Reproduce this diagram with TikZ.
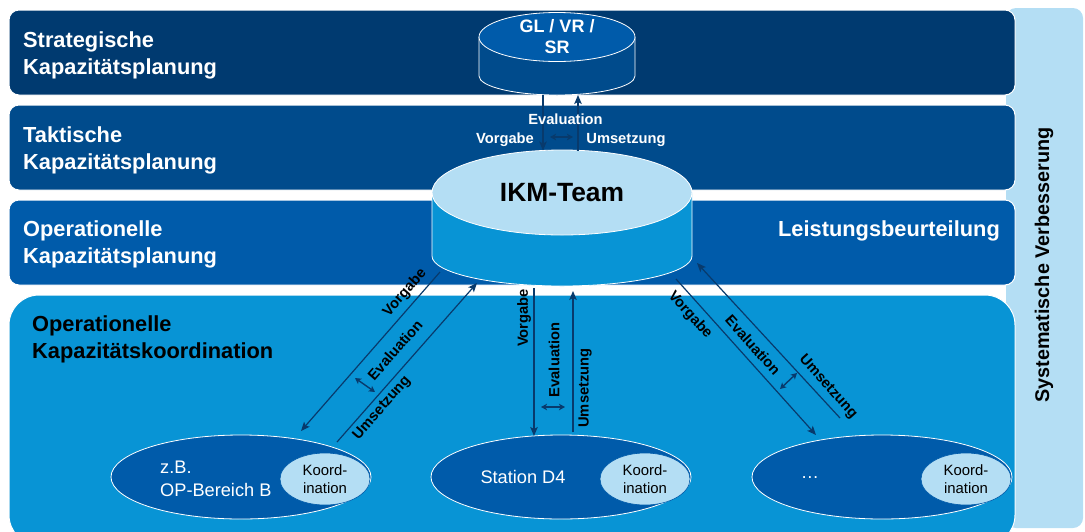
\documentclass[tikz,border=0pt]{standalone}
\usepackage{fontspec}
\setmainfont{Liberation Sans}
\usetikzlibrary{arrows.meta,shapes.geometric,calc}

\definecolor{bandA}{RGB}{0,58,112}
\definecolor{bandB}{RGB}{0,75,140}
\definecolor{bandC}{RGB}{0,91,170}
\definecolor{bandD}{RGB}{8,148,213}
\definecolor{paleblue}{RGB}{180,222,244}
\definecolor{arrowblue}{RGB}{8,58,108}

\begin{document}
\begin{tikzpicture}[x=1pt,y=-1pt,
  band/.style={draw=white, line width=1pt, rounded corners=10pt},
  bandlabel/.style={anchor=west, align=left, inner sep=0pt, text=white,
    font=\fontsize{21.8}{27}\selectfont\bfseries},
  flow/.style={draw=arrowblue, line width=1.2pt,
    -{Stealth[length=9pt,width=7.5pt,inset=2pt]}},
  swapflow/.style={draw=arrowblue, line width=1.4pt,
    {Stealth[length=6pt,width=6.5pt,inset=1.5pt]}-{Stealth[length=6pt,width=6.5pt,inset=1.5pt]}},
  flowlabel/.style={inner sep=0pt, font=\fontsize{14.7}{16}\selectfont\bfseries},
  unit/.style={ellipse, fill=bandC, draw=white, line width=0.8pt,
    minimum width=260pt, minimum height=84pt, inner sep=0pt},
  koord/.style={ellipse, fill=paleblue, draw=bandC, line width=0.6pt,
    minimum width=90pt, minimum height=52pt, inner sep=0pt},
  koordtext/.style={align=center, inner sep=0pt, font=\fontsize{14.9}{18}\selectfont},
  unittext/.style={text=white, inner sep=0pt, font=\fontsize{18.2}{23}\selectfont},
  rim/.style={ellipse, inner sep=0pt},
]
\useasboundingbox (0,0) rectangle (1085,531);

% side panel for continuous improvement
\fill[paleblue, rounded corners=10pt] (1006,8) rectangle (1083,528);
\node[rotate=90, inner sep=0pt, font=\fontsize{19.8}{22}\selectfont\bfseries] (improve)
  at (1044,265) {Systematische Verbesserung};

% planning levels
\path[band, fill=bandA] (9,10) rectangle (1015,95);
\path[band, fill=bandB] (9,105) rectangle (1015,190);
\path[band, fill=bandC] (9,200) rectangle (1015,285);
\path[band, fill=bandD, rounded corners=30pt] (9,295) rectangle (1015,545);

\node[bandlabel] (lvlA) at (23,55) {Strategische\\Kapazitätsplanung};
\node[bandlabel] (lvlB) at (23,150) {Taktische\\Kapazitätsplanung};
\node[bandlabel] (lvlC) at (23,244) {Operationelle\\Kapazitätsplanung};
\node[bandlabel, text=black] (lvlD) at (32,339.5) {Operationelle\\Kapazitätskoordination};
\node[bandlabel, anchor=east] (perf) at (1000,231) {Leistungsbeurteilung};

% management cylinder
\fill[bandB] (479,37) -- (479,76)
  arc[start angle=180, end angle=360, x radius=78pt, y radius=19pt] -- (635,37) -- cycle;
\draw[white, line width=0.8pt] (479,37) -- (479,76)
  arc[start angle=180, end angle=360, x radius=78pt, y radius=19pt] -- (635,37);
\node[rim, minimum width=156pt, minimum height=38pt] (glbase) at (557,76) {};
\node[ellipse, fill=bandC, draw=white, line width=0.8pt, inner sep=0pt,
  minimum width=156pt, minimum height=49pt] (gl) at (557,37) {};
\node[align=center, text=white, inner sep=0pt,
  font=\fontsize{18}{21}\selectfont\bfseries] (gltext) at (gl.center) {GL / VR /\\SR};

% IKM team cylinder
\fill[bandD] (432,192.5) -- (432,256)
  arc[start angle=180, end angle=360, x radius=130pt, y radius=30pt] -- (692,192.5) -- cycle;
\draw[white, line width=0.8pt] (432,192.5) -- (432,256)
  arc[start angle=180, end angle=360, x radius=130pt, y radius=30pt] -- (692,192.5);
\node[rim, minimum width=260pt, minimum height=60pt] (ikmbase) at (562,256) {};
\node[ellipse, fill=paleblue, draw=white, line width=0.8pt, inner sep=0pt,
  minimum width=260pt, minimum height=85pt] (ikm) at (562,192.5) {};
\node[inner sep=0pt, font=\fontsize{26.4}{30}\selectfont\bfseries] (ikmtext)
  at (ikm.center) {IKM-Team};

% operational units
\node[unit] (unitA) at (241,477) {};
\node[unit] (unitB) at (561,477) {};
\node[unit] (unitC) at (882,477) {};
\node[koord] (koordA) at ($(unitA.center)+(84,2)$) {};
\node[koord] (koordB) at ($(unitB.center)+(84,2)$) {};
\node[koord] (koordC) at ($(unitC.center)+(84,2)$) {};
\node[koordtext] (koordAtext) at (koordA.center) {Koord-\\ination};
\node[koordtext] (koordBtext) at (koordB.center) {Koord-\\ination};
\node[koordtext] (koordCtext) at (koordC.center) {Koord-\\ination};
\node[unittext, anchor=west, align=left] (unitAtext) at (160,479) {z.B.\\OP-Bereich B};
\node[unittext] (unitBtext) at (523,477) {Station D4};
\node[unittext] (unitCtext) at (810,478) {\ldots};

% strategic <-> tactical exchange
\draw[flow] ($(glbase.center)+(-14,19)$) -- ($(ikm.center)+(-19,-42)$);
\draw[flow] ($(ikm.center)+(16,-42)$) -- ($(glbase.center)+(21,19)$);
\coordinate (evalTa) at (550,137);
\coordinate (evalTb) at (573,137);
\draw[swapflow] (evalTa) -- (evalTb);
\node[flowlabel, text=white] (evalT) at (565.5,119) {Evaluation};
\node[flowlabel, text=white] (vorgT) at (505,140) {Vorgabe};
\node[flowlabel, text=white] (umsT) at (626,140) {Umsetzung};

% IKM team <-> unit A
\draw[flow] ($(ikmbase.center)+(-122,16)$) -- ($(unitA.center)+(60,-46)$);
\draw[flow] ($(unitA.center)+(96,-35)$) -- ($(ikmbase.center)+(-85,27)$);
\coordinate (evalAa) at (355,378);
\coordinate (evalAb) at (375,392);
\draw[swapflow] (evalAa) -- (evalAb);
\node[flowlabel, rotate=48.8] (vorgA) at (405,293) {Vorgabe};
\node[flowlabel, rotate=48.8] (evalA) at (395,350) {Evaluation};
\node[flowlabel, rotate=48.8] (umsA) at (382,408) {Umsetzung};

% IKM team <-> unit B
\draw[flow] ($(ikmbase.center)+(-28,32)$) -- ($(unitB.center)+(-27,-41)$);
\draw[flow] ($(unitB.center)+(12,-45)$) -- ($(ikmbase.center)+(11,35)$);
\coordinate (evalBa) at (541,407);
\coordinate (evalBb) at (565,407);
\draw[swapflow] (evalBa) -- (evalBb);
\node[flowlabel, rotate=90] (vorgB) at (524,318) {Vorgabe};
\node[flowlabel, rotate=90] (evalB) at (554,360) {Evaluation};
\node[flowlabel, rotate=90] (umsB) at (585,388) {Umsetzung};

% IKM team <-> unit C
\draw[flow] ($(ikmbase.center)+(114,23)$) -- ($(unitC.center)+(-66,-42)$);
\draw[flow] ($(unitC.center)+(-42,-59)$) -- ($(ikmbase.center)+(135,7)$);
\coordinate (evalCa) at (780,389);
\coordinate (evalCb) at (797,373);
\draw[swapflow] (evalCa) -- (evalCb);
\node[flowlabel, rotate=-48.1] (vorgC) at (690,315) {Vorgabe};
\node[flowlabel, rotate=-48.1] (evalC) at (753,345) {Evaluation};
\node[flowlabel, rotate=-48.1] (umsC) at (828,387) {Umsetzung};
\end{tikzpicture}
\end{document}
